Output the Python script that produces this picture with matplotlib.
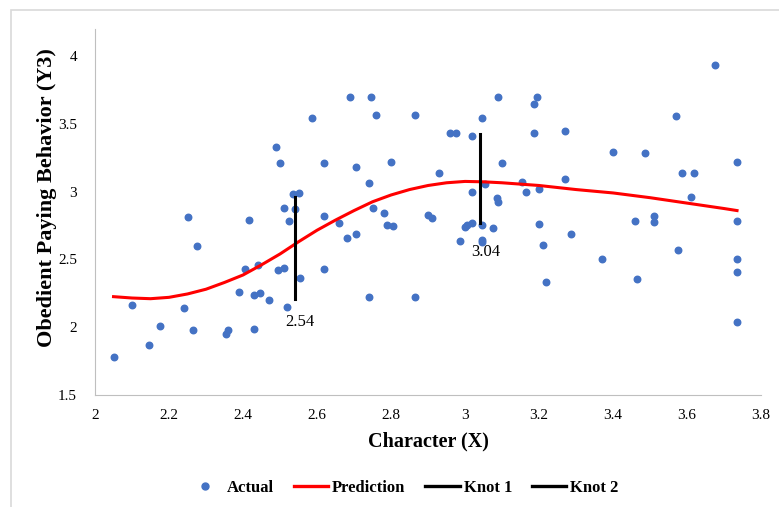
import matplotlib
matplotlib.use('Agg')
import matplotlib.pyplot as plt
from matplotlib.lines import Line2D
from matplotlib.patches import Rectangle

plt.rcParams['font.family'] = ['Liberation Serif', 'DejaVu Serif']

# Actual observations (Character X, Obedient Paying Behavior Y3)
actual_x = [2.05, 2.10, 2.145, 2.175, 2.24, 2.25, 2.265, 2.275, 2.355, 2.36,
            2.39, 2.405, 2.415, 2.43, 2.43, 2.445, 2.44, 2.47, 2.49, 2.50,
            2.495, 2.51, 2.51, 2.52, 2.525, 2.535, 2.55, 2.54, 2.555, 2.585,
            2.62, 2.62, 2.62, 2.66, 2.68, 2.69, 2.705, 2.705, 2.74, 2.74,
            2.745, 2.75, 2.76, 2.78, 2.79, 2.805, 2.80, 2.865, 2.865, 2.90,
            2.91, 2.93, 2.96, 2.975, 2.985, 3.00, 3.005, 3.02, 3.02, 3.02,
            3.045, 3.045, 3.045, 3.045, 3.055, 3.075, 3.085, 3.09, 3.09, 3.10,
            3.155, 3.165, 3.185, 3.195, 3.185, 3.20, 3.20, 3.21, 3.22, 3.27,
            3.27, 3.285, 3.37, 3.40, 3.46, 3.465, 3.485, 3.51, 3.51, 3.57,
            3.575, 3.585, 3.61, 3.62, 3.675, 3.735, 3.735, 3.735, 3.735, 3.735]
actual_y = [1.78, 2.16, 1.87, 2.01, 2.14, 2.81, 1.98, 2.60, 1.95, 1.98,
            2.26, 2.43, 2.79, 1.99, 2.24, 2.25, 2.46, 2.20, 3.33, 3.21,
            2.42, 2.44, 2.88, 2.15, 2.785, 2.98, 2.99, 2.87, 2.36, 3.54,
            2.82, 3.21, 2.43, 2.77, 2.66, 3.695, 2.685, 3.18, 2.225, 3.06,
            3.695, 2.88, 3.565, 2.84, 2.755, 2.748, 3.22, 3.565, 2.22, 2.83,
            2.805, 3.14, 3.432, 3.432, 2.635, 2.74, 2.75, 3.41, 3.00, 2.766,
            3.54, 2.75, 2.63, 2.645, 3.053, 2.73, 2.95, 2.92, 3.695, 3.21,
            3.07, 2.995, 3.644, 3.695, 3.43, 3.02, 2.76, 2.606, 2.335, 3.45,
            3.095, 2.69, 2.50, 3.29, 2.785, 2.353, 3.287, 2.82, 2.774, 3.557,
            2.57, 3.14, 2.96, 3.14, 3.935, 3.215, 2.78, 2.50, 2.41, 2.04]

# Prediction curve
pred_x = [2.05, 2.10, 2.15, 2.20, 2.25, 2.30, 2.35, 2.40, 2.45, 2.50, 2.55,
          2.60, 2.65, 2.70, 2.75, 2.80, 2.85, 2.90, 2.95, 3.00, 3.05, 3.10,
          3.20, 3.30, 3.40, 3.50, 3.60, 3.70, 3.735]
pred_y = [2.225, 2.215, 2.21, 2.22, 2.245, 2.28, 2.33, 2.385, 2.46, 2.54, 2.63,
          2.715, 2.79, 2.86, 2.925, 2.975, 3.015, 3.045, 3.065, 3.075, 3.072, 3.065,
          3.045, 3.015, 2.99, 2.955, 2.915, 2.875, 2.86]

# Knots
knot1_x = 2.54
knot1_y = [2.21, 2.96]
knot2_x = 3.04
knot2_y = [2.766, 3.425]

fig = plt.figure(figsize=(7.79, 5.07), dpi=100)
ax = fig.add_axes([0.122, 0.221, 0.855, 0.722])

ax.scatter(actual_x, actual_y, s=22, color='#4472C4', zorder=3)
ax.plot(pred_x, pred_y, color='#FF0000', lw=2.2, zorder=4)
ax.plot([knot1_x, knot1_x], knot1_y, color='black', lw=2.2, zorder=5)
ax.plot([knot2_x, knot2_x], knot2_y, color='black', lw=2.2, zorder=5)

# knot value labels
ax.text(knot1_x + 0.014, 2.04, '%.2f' % knot1_x, fontsize=12,
        ha='center', va='center')
ax.text(knot2_x + 0.017, 2.555, '%.2f' % knot2_x, fontsize=12,
        ha='center', va='center')

ax.set_xlim(2, 3.8)
ax.set_ylim(1.5, 4.2)
ax.set_xticks([2, 2.2, 2.4, 2.6, 2.8, 3, 3.2, 3.4, 3.6, 3.8])
ax.set_xticklabels(['2', '2.2', '2.4', '2.6', '2.8', '3', '3.2', '3.4', '3.6', '3.8'])
ax.set_yticks([1.5, 2, 2.5, 3, 3.5, 4])
ax.set_yticklabels(['1.5', '2', '2.5', '3', '3.5', '4'])
ax.tick_params(length=0, labelsize=11, pad=10)
ax.tick_params(axis='y', pad=13)

for s in ['top', 'right']:
    ax.spines[s].set_visible(False)
ax.spines['left'].set_color('#BFBFBF')
ax.spines['bottom'].set_color('#BFBFBF')

ax.set_xlabel('Character (X)', fontsize=14.5, fontweight='bold', labelpad=7)
ax.set_ylabel('Obedient Paying Behavior (Y3)', fontsize=16, fontweight='bold')
ax.yaxis.set_label_coords(-0.057, 0.54)

handles = [
    Line2D([], [], marker='o', ls='none', color='#4472C4', markersize=5),
    Line2D([], [], color='#FF0000', lw=2.4),
    Line2D([], [], color='black', lw=2.4),
    Line2D([], [], color='black', lw=2.4),
]
fig.legend(handles, ['Actual', 'Prediction', 'Knot 1', 'Knot 2'],
           loc='center', bbox_to_anchor=(0.518, 0.037), ncol=4, frameon=False,
           prop={'weight': 'bold', 'size': 12}, handlelength=2.05,
           handletextpad=0.25, columnspacing=1.2)

# outer chart border (only top and left edges are visible in the crop)
fig.patches.append(Rectangle((0.014, -0.05), 1.1, 1.03, transform=fig.transFigure,
                             fill=False, edgecolor='#D9D9D9', lw=1.2))

fig.savefig('out.png', dpi=100)
